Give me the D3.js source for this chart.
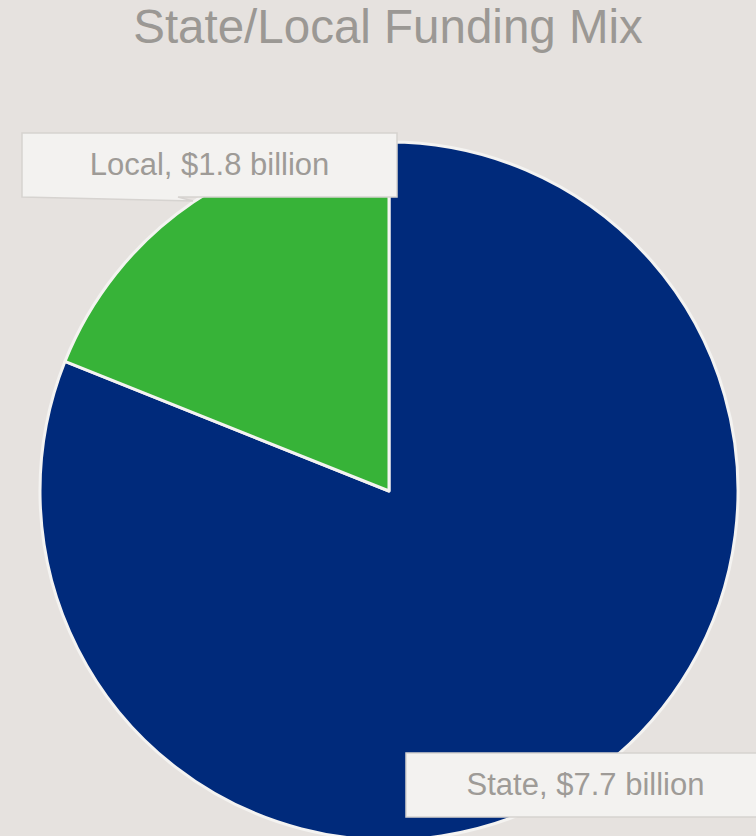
<!DOCTYPE html>
<html>
<head>
<meta charset="utf-8">
<script src="https://cdn.jsdelivr.net/npm/d3@7"></script>
<style>
  html, body { margin: 0; padding: 0; background: #e6e2df; }
  svg { display: block; }
</style>
</head>
<body>
<script>
// Funding sources and amounts ($ billion)
const categories = ["State", "Local"];
const amounts = [7.7, 1.8];
const labels = ["State, $7.7 billion", "Local, $1.8 billion"];
const colors = ["#002a7b", "#37b338"];

const W = 756, H = 836;
const cx = 389, cy = 491, R = 349;

const svg = d3.select("body").append("svg")
  .attr("width", W).attr("height", H);

svg.append("rect").attr("width", W).attr("height", H).attr("fill", "#e6e2df");

// Title
svg.append("text")
  .attr("x", 388).attr("y", 43)
  .attr("text-anchor", "middle")
  .attr("font-family", "Liberation Sans, Arial, sans-serif")
  .attr("font-size", 47.5)
  .attr("fill", "#9b9894")
  .text("State/Local Funding Mix");

const data = categories.map((c, i) => ({ name: c, value: amounts[i], label: labels[i], color: colors[i] }));

const pie = d3.pie().sort(null).value(d => d.value);
const arc = d3.arc().innerRadius(0).outerRadius(R);
const arcs = pie(data);

const g = svg.append("g").attr("transform", `translate(${cx},${cy})`);
g.selectAll("path").data(arcs).enter().append("path")
  .attr("d", arc)
  .attr("fill", d => d.data.color)
  .attr("stroke", "#f4f3f1")
  .attr("stroke-width", 3)
  .attr("stroke-linejoin", "round");

// Callout boxes
const font = "Liberation Sans, Arial, sans-serif";
const boxes = [
  { name: "Local", x: 22, y: 133, w: 375, h: 64, tail: [193, 201] },
  { name: "State", x: 406, y: 753, w: 359, h: 64, tail: null }
];

boxes.forEach(b => {
  const d = data.find(x => x.name === b.name);
  let p;
  if (b.tail) {
    const [tx, ty] = b.tail;
    p = `M${b.x},${b.y}H${b.x + b.w}V${b.y + b.h}H${tx - 15}L${tx},${ty}L${b.x},${b.y + b.h}Z`;
  } else {
    p = `M${b.x},${b.y}H${b.x + b.w}V${b.y + b.h}H${b.x}Z`;
  }
  svg.append("path")
    .attr("d", p)
    .attr("fill", "#f3f2f0")
    .attr("stroke", "#d6d3d0")
    .attr("stroke-width", 1.5);
  svg.append("text")
    .attr("x", b.x + b.w / 2)
    .attr("y", b.y + 42)
    .attr("text-anchor", "middle")
    .attr("font-family", font)
    .attr("font-size", 31)
    .attr("fill", "#9e9b97")
    .text(d.label);
});
</script>
</body>
</html>
